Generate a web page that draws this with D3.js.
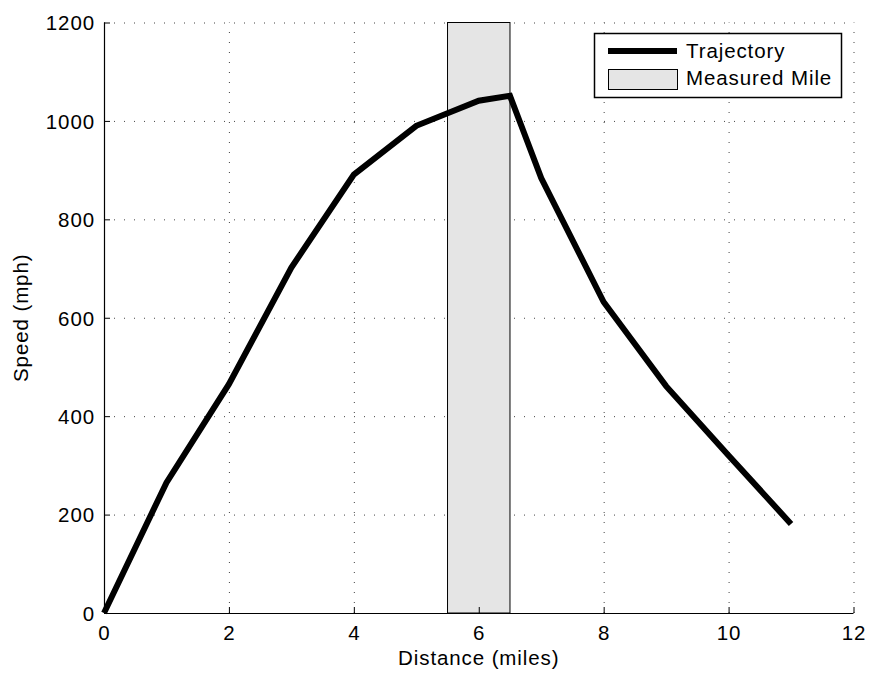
<!DOCTYPE html>
<html lang="en">
<head>
  <meta charset="UTF-8">
  <title>Speed vs Distance</title>
  <script src="https://cdnjs.cloudflare.com/ajax/libs/d3/7.8.5/d3.min.js"></script>
  <style>
    body { margin: 0; background: #fff; }
    svg { display: block; font-family: "Liberation Sans", Arial, sans-serif; }
    svg text { letter-spacing: 0.9px; }
  </style>
</head>
<body>
<svg id="chart" width="873" height="679"></svg>
<script>
const distance = [0, 1, 2, 3, 4, 5, 6, 6.5, 7, 8, 9, 10, 11];
const speed = [0, 265, 465, 702, 891, 990, 1041, 1051, 884, 632, 461, 320, 181];
const mileRange = [5.5, 6.5];
const xTicks = [0, 2, 4, 6, 8, 10, 12];
const yTicks = [0, 200, 400, 600, 800, 1000, 1200];
const legendLabels = ["Trajectory", "Measured Mile"];

const svg = d3.select("#chart");
const m = { left: 104, right: 853.5, top: 22.5, bottom: 613 };
const fs = 20.5;

const x = d3.scaleLinear().domain([0, 12]).range([m.left, m.right]);
const y = d3.scaleLinear().domain([0, 1200]).range([m.bottom, m.top]);

// dotted grid
const grid = svg.append("g").attr("stroke", "#444").attr("stroke-width", 1)
  .attr("stroke-dasharray", "1,9");
grid.selectAll(".gx").data(xTicks.slice(1)).join("line")
  .attr("x1", d => x(d) + 0.5).attr("x2", d => x(d) + 0.5)
  .attr("y1", m.bottom).attr("y2", m.top);
grid.selectAll(".gy").data(yTicks.slice(1)).join("line")
  .attr("x1", m.left).attr("x2", m.right)
  .attr("y1", d => y(d) + 0.5).attr("y2", d => y(d) + 0.5);

// measured mile patch
svg.append("rect")
  .attr("x", x(mileRange[0])).attr("y", y(1200))
  .attr("width", x(mileRange[1]) - x(mileRange[0]))
  .attr("height", y(0) - y(1200))
  .attr("fill", "#e5e5e5").attr("stroke", "#000").attr("stroke-width", 1);

// trajectory
const line = d3.line().x((d, i) => x(distance[i])).y(d => y(d));
svg.append("path").datum(speed)
  .attr("d", line).attr("fill", "none")
  .attr("stroke", "#000").attr("stroke-width", 6)
  .attr("stroke-linejoin", "miter");

// axes
const xAxis = d3.axisBottom(x).tickValues(xTicks).tickSize(-6).tickFormat(d3.format("d"));
const yAxis = d3.axisLeft(y).tickValues(yTicks).tickSize(-6).tickFormat(d3.format("d"));

const gx = svg.append("g").attr("transform", `translate(0,${m.bottom})`).call(xAxis);
gx.select(".domain").attr("d", `M${m.left},0.5H${m.right}`).attr("stroke-width", 1.2);
gx.selectAll(".tick text").attr("dy", 0).attr("y", 27).attr("font-size", fs)
  .attr("font-family", "Liberation Sans, Arial, sans-serif").attr("fill", "#000");

const gy = svg.append("g").attr("transform", `translate(${m.left},0)`).call(yAxis);
gy.select(".domain").attr("d", `M0.5,${m.bottom}V${m.top}`).attr("stroke-width", 1.2);
gy.selectAll(".tick text").attr("x", -9).attr("dy", "0.36em").attr("font-size", fs)
  .attr("font-family", "Liberation Sans, Arial, sans-serif").attr("fill", "#000");

// axis labels
svg.append("text").attr("x", (m.left + m.right) / 2).attr("y", 665)
  .attr("text-anchor", "middle").attr("font-size", fs).text("Distance (miles)");
svg.append("text").attr("transform", `translate(28,${(m.top + m.bottom) / 2}) rotate(-90)`)
  .attr("text-anchor", "middle").attr("font-size", fs).text("Speed (mph)");

// legend
const lg = svg.append("g");
lg.append("rect").attr("x", 594.5).attr("y", 33.5).attr("width", 247).attr("height", 64)
  .attr("fill", "#fff").attr("stroke", "#000").attr("stroke-width", 1.5);
lg.append("line").attr("x1", 608).attr("x2", 677).attr("y1", 51).attr("y2", 51)
  .attr("stroke", "#000").attr("stroke-width", 6);
lg.append("rect").attr("x", 608.5).attr("y", 69.5).attr("width", 69).attr("height", 20)
  .attr("fill", "#e5e5e5").attr("stroke", "#000").attr("stroke-width", 1);
lg.selectAll("text.lbl").data(legendLabels).join("text")
  .attr("class", "lbl").attr("x", 686).attr("y", (d, i) => 58 + i * 26.5)
  .attr("font-size", fs).text(d => d);
</script>
</body>
</html>
